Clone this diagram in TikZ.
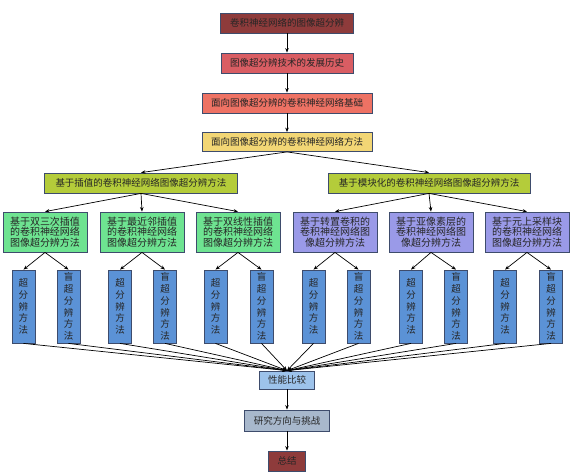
\documentclass[tikz,border=0pt]{standalone}
\usepackage{fontspec}
\setmainfont{Noto Sans CJK SC}
\usetikzlibrary{arrows.meta}
\definecolor{edge}{HTML}{3E4C6C}
\definecolor{cA}{HTML}{8E3B3B}
\definecolor{cB}{HTML}{D95D63}
\definecolor{cC}{HTML}{EE7264}
\definecolor{cD}{HTML}{F2D675}
\definecolor{cE}{HTML}{B4CC3A}
\definecolor{cF}{HTML}{6EE391}
\definecolor{cG}{HTML}{9A9AE8}
\definecolor{cH}{HTML}{5B92D6}
\definecolor{cI}{HTML}{9DC3EB}
\definecolor{cJ}{HTML}{A8B8CC}
\begin{document}
\begin{tikzpicture}[x=1pt,y=-1pt,
  box/.style={draw=edge, line width=0.8pt, inner sep=0pt, align=center,
    text=black!85, font=\fontsize{9.5}{10.5}\selectfont},
  l6/.style={box, minimum width=84pt, minimum height=40pt,
    font=\fontsize{10}{10.6}\selectfont},
  vbox/.style={box, fill=cH, minimum width=23pt, minimum height=73pt,
    font=\fontsize{9.5}{11.8}\selectfont},
  arr/.style={-{Stealth[length=4.5pt,width=3.5pt]}, line width=0.7pt, black}]
\useasboundingbox (0,0) rectangle (571,474);
\node[box, fill=cA, minimum width=133pt, minimum height=20pt] (t1) at (287,23) {卷积神经网络的图像超分辨};
\node[box, fill=cB, minimum width=132pt, minimum height=20pt] (t2) at (287,63) {图像超分辨技术的发展历史};
\node[box, fill=cC, minimum width=170pt, minimum height=20pt] (t3) at (287,103) {面向图像超分辨的卷积神经网络基础};
\node[box, fill=cD, minimum width=170pt, minimum height=19pt] (t4) at (287,142) {面向图像超分辨的卷积神经网络方法};
\node[box, fill=cE, minimum width=193pt, minimum height=20pt] (m1) at (141,183) {基于插值的卷积神经网络图像超分辨方法};
\node[box, fill=cE, minimum width=202pt, minimum height=20pt] (m2) at (429,183) {基于模块化的卷积神经网络图像超分辨方法};
\node[l6, fill=cF] (s1) at (45,232) {基于双三次插值\\的卷积神经网络\\图像超分辨方法};
\node[l6, fill=cF] (s2) at (142,232) {基于最近邻插值\\的卷积神经网络\\图像超分辨方法};
\node[l6, fill=cF] (s3) at (238,232) {基于双线性插值\\的卷积神经网络\\图像超分辨方法};
\node[l6, fill=cG] (s4) at (335,232) {基于转置卷积的\\卷积神经网络图\\像超分辨方法};
\node[l6, fill=cG] (s5) at (431,232) {基于亚像素层的\\卷积神经网络图\\像超分辨方法};
\node[l6, fill=cG] (s6) at (527,232) {基于元上采样块\\的卷积神经网络\\图像超分辨方法};
\foreach \i/\x in {1/23.5,3/120,5/215.5,7/313.5,9/411,11/505}{
  \node[vbox] (b\i) at (\x,306.5) {超\\分\\辨\\方\\法};
}
\foreach \i/\x in {2/68.5,4/165,6/261.5,8/358.5,10/456,12/551}{
  \node[vbox] (b\i) at (\x,306.5) {盲\\超\\分\\辨\\方\\法};
}
\node[box, fill=cI, minimum width=55pt, minimum height=18pt] (p) at (287,380) {性能比较};
\node[box, fill=cJ, minimum width=85pt, minimum height=21pt] (r) at (287,420.5) {研究方向与挑战};
\node[box, fill=cA, minimum width=37pt, minimum height=20pt] (z) at (287,461) {总结};
\draw[arr] (t1) -- (t2);
\draw[arr] (t2) -- (t3);
\draw[arr] (t3) -- (t4);
\draw[arr] (t4.south) -- (m1.north);
\draw[arr] (t4.south) -- (m2.north);
\foreach \s in {1,2,3} \draw[arr] (m1.south) -- (s\s.north);
\foreach \s in {4,5,6} \draw[arr] (m2.south) -- (s\s.north);
\foreach \s/\a/\b in {1/1/2,2/3/4,3/5/6,4/7/8,5/9/10,6/11/12}{
  \draw[arr] (s\s.south) -- (b\a.north);
  \draw[arr] (s\s.south) -- (b\b.north);
}
\foreach \i in {1,...,12} \draw[arr] (b\i.south) -- (p.north);
\draw[arr] (p) -- (r);
\draw[arr] (r) -- (z);
\end{tikzpicture}
\end{document}
